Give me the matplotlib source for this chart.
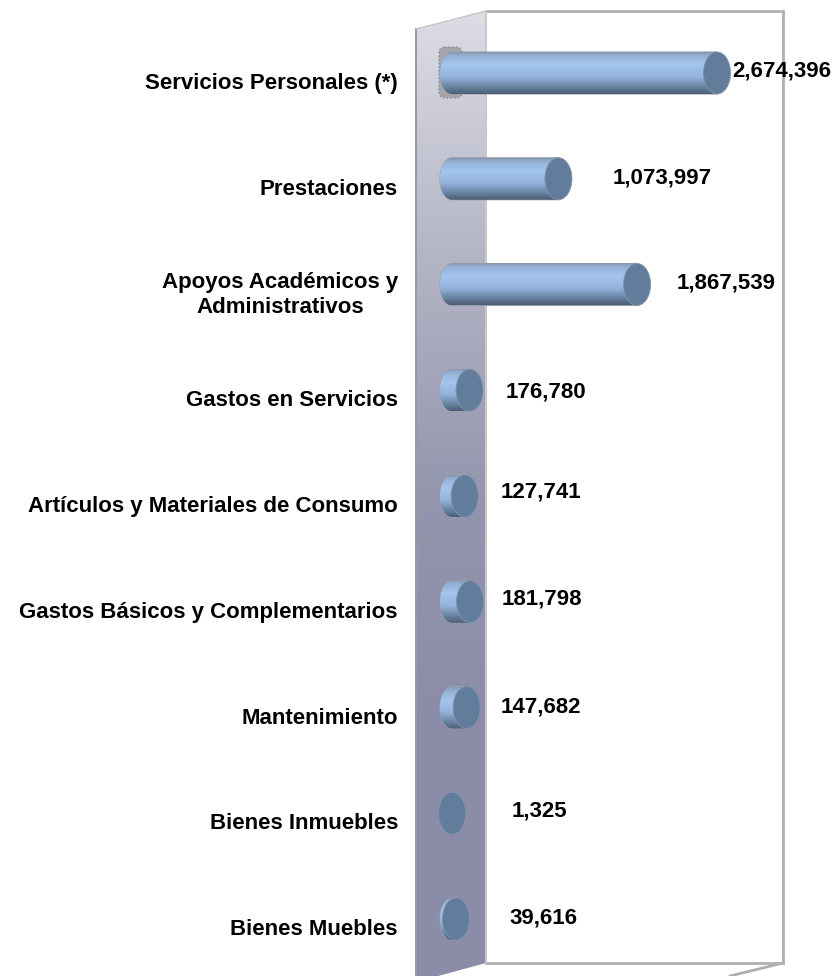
import numpy as np
import matplotlib
matplotlib.use('Agg')
import matplotlib.pyplot as plt
from matplotlib.colors import LinearSegmentedColormap
from matplotlib.patches import Ellipse, PathPatch, Polygon, FancyBboxPatch
from matplotlib.path import Path

plt.rcParams['font.family'] = ['Liberation Sans', 'DejaVu Sans']

categories = ['Servicios Personales (*)', 'Prestaciones', 'Apoyos Académicos y\nAdministrativos',
              'Gastos en Servicios', 'Artículos y Materiales de Consumo',
              'Gastos Básicos y Complementarios', 'Mantenimiento', 'Bienes Inmuebles', 'Bienes Muebles']
values = [2674396, 1073997, 1867539, 176780, 127741, 181798, 147682, 1325, 39616]

# label offsets from the bar end, in pixels (they were moved by hand in the original)
label_dx = [15, 54, 40, 36, 36, 32, 34, 59, 54]
label_dy = [2, 1, 2, -2, 4, 3, 1, 2, 1]

W, H = 837, 976
x0_px, x1_px = 452, 717     # value 0 and the largest value
y0_px, step_px = 73, 105.75  # first category and the distance between categories
px_per_val = (x1_px - x0_px) / max(values)

fig = plt.figure(figsize=(W / 100, H / 100), dpi=100, facecolor='white')

# walls of the 3d box, in pixels
bg = fig.add_axes([0, 0, 1, 1], zorder=1)
bg.set_xlim(0, W)
bg.set_ylim(H, 0)
bg.axis('off')

wall_cmap = LinearSegmentedColormap.from_list('wall', ['#dcdde5', '#b4b5c6', '#9496ae', '#8a8ca8', '#8a8ca8'])
wall = bg.imshow(np.linspace(0, 1, 256).reshape(-1, 1), cmap=wall_cmap, aspect='auto',
                 extent=(416, 486, 980, 10), zorder=1)
wall_poly = Polygon([(416, 29), (486, 11), (486, 963), (416, 982)], closed=True, transform=bg.transData,
                    fc='none', ec='none')
bg.add_patch(wall_poly)
wall.set_clip_path(wall_poly)
bg.set_xlim(0, W)
bg.set_ylim(H, 0)

line_col = '#b0b0b0'
bg.plot([486, 783, 783, 486], [11, 11, 963, 963], color=line_col, lw=2, solid_joinstyle='miter', zorder=2)
bg.plot([486, 486], [11, 963], color='#c8c8c8', lw=1.5, zorder=2)
bg.plot([416, 416], [29, 976], color='#9a9a9a', lw=1.5, zorder=2)
bg.plot([416, 486], [29, 11], color='#c4c4cc', lw=1, zorder=2)
bg.plot([783, 730], [963, 976], color=line_col, lw=2, zorder=2)
bg.add_patch(FancyBboxPatch((442, 50), 17, 45, boxstyle='round,pad=3,rounding_size=6',
                            fc='#a6a6aa', ec='#8f8f92', lw=1, ls=':', zorder=2))

# chart itself, values on x and category number on y
ax = fig.add_axes([0, 0, 1, 1], zorder=2)
ax.patch.set_alpha(0)
ax.axis('off')
xlim = (-x0_px / px_per_val, (W - x0_px) / px_per_val)
ylim = ((H - y0_px) / step_px, -y0_px / step_px)

bar_cmap = LinearSegmentedColormap.from_list(
    'bar', [(0, '#8497ae'), (0.08, '#94b0d4'), (0.3, '#a4c5ee'), (0.6, '#93b3dc'),
            (0.82, '#6a86a6'), (1, '#4c5e72')])
grad = np.linspace(0, 1, 128).reshape(-1, 1)
half_h = 21 / step_px
base_w = 12 / px_per_val
cap_w = 13.5 / px_per_val

for i, (name, val) in enumerate(zip(categories, values)):
    t = np.linspace(np.pi / 2, 3 * np.pi / 2, 40)
    left_x = base_w * np.cos(t)
    left_y = i - half_h * np.sin(t)
    verts = list(zip(left_x, left_y)) + [(val, i + half_h), (val, i - half_h), (left_x[0], left_y[0])]
    body = PathPatch(Path(verts), fc='none', ec='#9a9ea6', lw=0.8, zorder=3)
    ax.add_patch(body)
    im = ax.imshow(grad, cmap=bar_cmap, aspect='auto', zorder=3,
                   extent=(-base_w, val, i + half_h, i - half_h))
    im.set_clip_path(body)
    ax.add_patch(Ellipse((val, i), 2 * cap_w, 2 * half_h, fc='#627d9c', ec='#7f93aa', lw=0.6, zorder=4))

    ax.annotate(f'{val:,}', xy=(val, i), xytext=(label_dx[i], label_dy[i]), textcoords='offset pixels',
                ha='left', va='center', fontsize=16, fontweight='bold', color='black', zorder=5)
    ax.annotate(name, xy=(0, i), xytext=(398 - x0_px, -10.5), textcoords='offset pixels',
                ha='right', va='center', multialignment='center', linespacing=1.25,
                fontsize=16, fontweight='bold', color='black', zorder=5)

ax.set_xlim(xlim)
ax.set_ylim(ylim)

fig.savefig('out.png', dpi=100)
